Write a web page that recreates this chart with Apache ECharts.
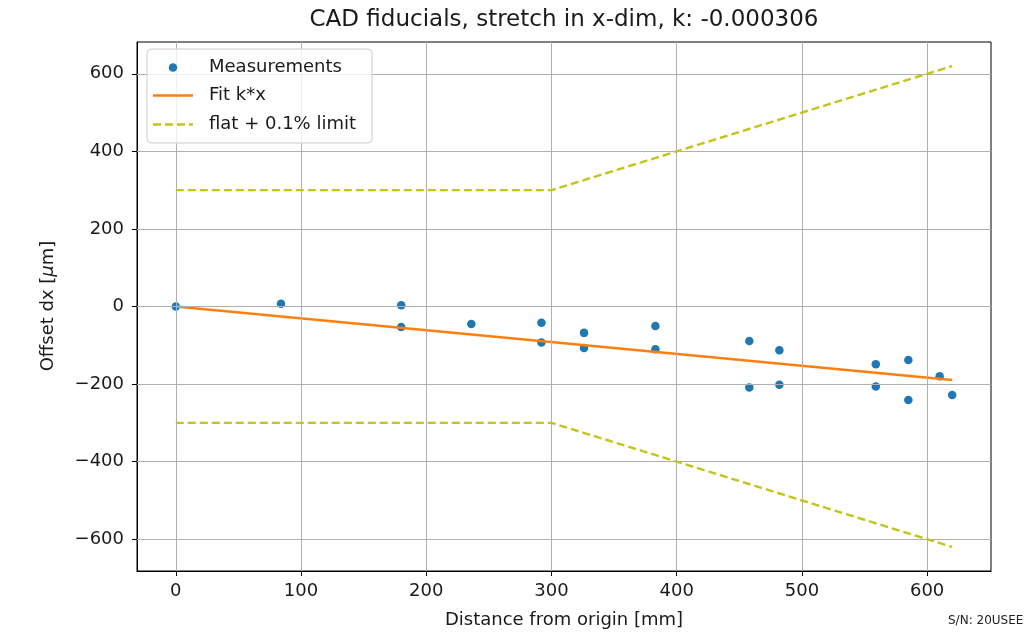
<!DOCTYPE html>
<html>
<head>
<meta charset="utf-8">
<script src="https://cdn.jsdelivr.net/npm/echarts@6/dist/echarts.min.js"></script>
<style>
html,body{margin:0;padding:0;background:#fff;}
#chart{width:1029px;height:639px;}
</style>
</head>
<body>
<div id="chart"></div>
<script>
// ---- data ----
var measX = [0, 84, 180, 180, 236, 292, 292, 326, 326, 383, 383, 458, 458, 482, 482, 559, 559, 585, 585, 610, 620];
var measY = [0, 7, 3, -53, -45, -42, -93, -68, -107, -50, -110, -89, -209, -113, -202, -149, -206, -138, -241, -180, -228];
var fitX = [0, 620];
var fitY = [0, -189.7];
var limitX = [0, 300, 620];
var limitUpper = [300, 300, 620];
var limitLower = [-300, -300, -620];
var xTicks = [0, 100, 200, 300, 400, 500, 600];
var yTicks = [-600, -400, -200, 0, 200, 400, 600];
var xRange = [-31, 651];
var yRange = [-682, 682];
var titleText = 'CAD fiducials, stretch in x-dim, k: -0.000306';
var xLabel = 'Distance from origin [mm]';
var legendNames = ['Measurements', 'Fit k*x', 'flat + 0.1% limit'];
var snText = 'S/N: 20USEE';

// ---- chart ----
var FONT = 'DejaVu Sans';
var BLUE = '#1f77b4', ORANGE = '#ff7f0e', OLIVE = '#c4c41c';
var chart = echarts.init(document.getElementById('chart'), null, {renderer: 'canvas'});

function fmt(v) { return v < 0 ? '\u2212' + Math.abs(v) : String(v); }
function zip(a, b) { return a.map(function (v, i) { return [v, b[i]]; }); }

var gridLines = xTicks.map(function (v) { return {xAxis: v}; })
  .concat(yTicks.map(function (v) { return {yAxis: v}; }));

var option = {
  animation: false,
  backgroundColor: '#fff',
  grid: {left: 137, right: 38, top: 42, bottom: 68, show: true, borderColor: '#000', borderWidth: 1, backgroundColor: 'transparent'},
  xAxis: {
    type: 'value', min: xRange[0], max: xRange[1],
    axisLine: {show: true, onZero: false, lineStyle: {color: '#000', width: 1}},
    axisTick: {show: true, customValues: xTicks, length: 5, lineStyle: {color: '#000', width: 1}},
    axisLabel: {customValues: xTicks, formatter: fmt, color: '#1a1a1a', fontFamily: FONT, fontSize: 18, margin: 11},
    splitLine: {show: false}
  },
  yAxis: {
    type: 'value', min: yRange[0], max: yRange[1],
    axisLine: {show: true, onZero: false, lineStyle: {color: '#000', width: 1}},
    axisTick: {show: true, customValues: yTicks, length: 5, lineStyle: {color: '#000', width: 1}},
    axisLabel: {customValues: yTicks, formatter: fmt, color: '#1a1a1a', fontFamily: FONT, fontSize: 18, margin: 13},
    splitLine: {show: false}
  },
  series: [
    {
      type: 'line', data: [], z: 1, silent: true,
      markLine: {silent: true, symbol: ['none', 'none'], label: {show: false}, animation: false,
        lineStyle: {color: '#b0b0b0', width: 1, type: 'solid'}, emphasis: {disabled: true}, data: gridLines}
    },
    {
      name: legendNames[0], type: 'scatter', z: 3, data: zip(measX, measY),
      symbol: 'circle', symbolSize: 8.5, itemStyle: {color: BLUE, opacity: 1}
    },
    {
      name: legendNames[1], type: 'line', z: 4, data: zip(fitX, fitY), showSymbol: false, symbol: 'none',
      lineStyle: {color: ORANGE, width: 2.6}
    },
    {
      name: legendNames[2], type: 'line', z: 5, data: zip(limitX, limitUpper), showSymbol: false, symbol: 'none',
      lineStyle: {color: OLIVE, width: 2.4, type: [8, 4]}
    },
    {
      name: legendNames[2], type: 'line', z: 5, data: zip(limitX, limitLower), showSymbol: false, symbol: 'none',
      lineStyle: {color: OLIVE, width: 2.4, type: [8, 4]}
    }
  ],
  graphic: [
    {type: 'text', style: {text: titleText, x: 564, y: 20, align: 'center', verticalAlign: 'middle', font: '23px "DejaVu Sans"', fill: '#1a1a1a'}},
    {type: 'text', style: {text: xLabel, x: 564, y: 620, align: 'center', verticalAlign: 'middle', font: '18px "DejaVu Sans"', fill: '#1a1a1a'}},
    {type: 'text', x: 48, y: 306, rotation: Math.PI / 2, style: {
      text: 'Offset dx [{i|\u03bc}m]', x: 0, y: 0, align: 'center', verticalAlign: 'middle',
      font: '18px "DejaVu Sans"', fill: '#1a1a1a',
      rich: {i: {fontStyle: 'italic', fontFamily: FONT, fontSize: 18, fill: '#1a1a1a'}}}},
    {type: 'text', style: {text: snText, x: 948, y: 621, align: 'left', verticalAlign: 'middle', font: '12px "DejaVu Sans"', fill: '#222'}},
    // legend
    {type: 'rect', z: 100, shape: {x: 147, y: 49, width: 225, height: 94, r: 4}, style: {fill: 'rgba(255,255,255,0.8)', stroke: '#cccccc', lineWidth: 1}},
    {type: 'circle', z: 101, shape: {cx: 173, cy: 67.5, r: 4.25}, style: {fill: BLUE}},
    {type: 'line', z: 101, shape: {x1: 153, y1: 95.5, x2: 193, y2: 95.5}, style: {stroke: ORANGE, lineWidth: 2.6}},
    {type: 'line', z: 101, shape: {x1: 153, y1: 124.5, x2: 193, y2: 124.5}, style: {stroke: OLIVE, lineWidth: 2.4, lineDash: [8, 4]}},
    {type: 'text', z: 101, style: {text: legendNames[0], x: 209, y: 67.5, verticalAlign: 'middle', font: '18px "DejaVu Sans"', fill: '#1a1a1a'}},
    {type: 'text', z: 101, style: {text: legendNames[1], x: 209, y: 95.5, verticalAlign: 'middle', font: '18px "DejaVu Sans"', fill: '#1a1a1a'}},
    {type: 'text', z: 101, style: {text: legendNames[2], x: 209, y: 124.5, verticalAlign: 'middle', font: '18px "DejaVu Sans"', fill: '#1a1a1a'}}
  ]
};
chart.setOption(option);
</script>
</body>
</html>
